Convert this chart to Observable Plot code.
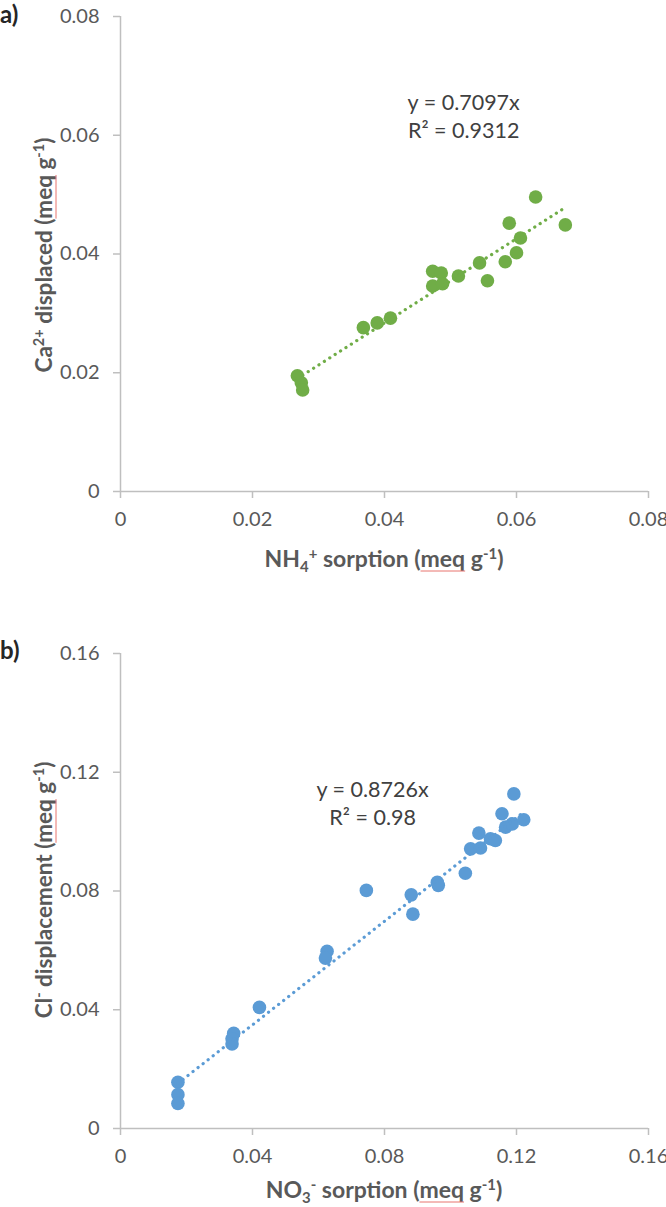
<!DOCTYPE html>
<html>
<head>
<meta charset="utf-8">
<script src="https://cdn.jsdelivr.net/npm/d3@7"></script>
<script src="https://cdn.jsdelivr.net/npm/@observablehq/plot@0.6"></script>
<style>
  html, body { margin: 0; padding: 0; background: #fff; }
  #wrap { width: 666px; }
  svg { display: block; overflow: visible; }
</style>
</head>
<body>
<div id="wrap"></div>
<script>
// ---- Panel a data: NH4+ sorption vs Ca2+ displaced ----
const aSorption = [0.0268, 0.0274, 0.0276, 0.0368, 0.0389, 0.0409, 0.0473, 0.0486, 0.0473, 0.0488,
                   0.0512, 0.0544, 0.0556, 0.0583, 0.0600, 0.0606, 0.0589, 0.0629, 0.0674];
const aDisplaced = [0.0195, 0.0183, 0.0171, 0.0276, 0.0284, 0.0292, 0.0371, 0.0368, 0.0346, 0.0350,
                    0.0363, 0.0385, 0.0355, 0.0387, 0.0402, 0.0427, 0.0452, 0.0496, 0.0449];
const aSlope = 0.7097;
const aEquation = ["y = 0.7097x", "R² = 0.9312"];
const aTicks = [0, 0.02, 0.04, 0.06, 0.08];

// ---- Panel b data: NO3- sorption vs Cl- displacement ----
const bSorption = [0.0174, 0.0174, 0.0174, 0.0343, 0.0338, 0.0338, 0.0421, 0.0626, 0.0621, 0.0745,
                   0.0881, 0.0886, 0.0963, 0.0960, 0.1045, 0.1061, 0.1091, 0.1086, 0.1121, 0.1136,
                   0.1167, 0.1187, 0.1156, 0.1222, 0.1192];
const bDisplaced = [0.0156, 0.0114, 0.0084, 0.0321, 0.0302, 0.0285, 0.0408, 0.0597, 0.0574, 0.0802,
                    0.0787, 0.0722, 0.0819, 0.0829, 0.0860, 0.0942, 0.0945, 0.0995, 0.0976, 0.0970,
                    0.1015, 0.1026, 0.1060, 0.1040, 0.1127];
const bSlope = 0.8726;
const bEquation = ["y = 0.8726x", "R² = 0.98"];
const bTicks = [0, 0.04, 0.08, 0.12, 0.16];

const FONT = "Lato, 'Open Sans', sans-serif";
const AXIS = "#bfbfbf";
const TEXT = "#595959";

function fmt(d) { return d === 0 ? "0" : String(+d.toFixed(2)); }

function richText(svg, parts, attrs) {
  const g = svg.append("g").attr("transform", attrs.transform);
  const t = g.append("text")
    .attr("font-family", FONT)
    .attr("font-weight", "bold")
    .attr("font-size", attrs.size)
    .attr("fill", TEXT)
    .attr("text-anchor", "middle");
  let shift = 0;
  const marked = [];
  for (const p of parts) {
    const target = p.sub ? 5 : p.sup ? -8 : 0;
    const ts = t.append("tspan").text(p.t).attr("dy", target - shift);
    if (p.sub || p.sup) ts.attr("font-size", attrs.size * 0.65);
    if (p.mark) marked.push(ts.node());
    shift = target;
  }
  // spell-check style red underline beneath "meq"
  for (const node of marked) {
    const s = node.getStartPositionOfChar(0);
    const len = node.getComputedTextLength();
    g.append("line")
      .attr("x1", s.x).attr("x2", s.x + len)
      .attr("y1", s.y + 4).attr("y2", s.y + 4)
      .attr("stroke", "#e8746f").attr("stroke-width", 1);
  }
  return t;
}

function panel(cfg) {
  const data = cfg.xs.map((x, i) => ({x, y: cfg.ys[i]}));
  const x0 = d3.min(cfg.xs), x1 = d3.max(cfg.xs);
  const trend = [{x: x0, y: cfg.slope * x0}, {x: x1, y: cfg.slope * x1}];
  const chart = Plot.plot({
    width: 666,
    height: cfg.height,
    marginTop: cfg.marginTop,
    marginBottom: cfg.marginBottom,
    marginLeft: 120,
    marginRight: 18,
    style: {fontFamily: FONT, background: "white", overflow: "visible"},
    x: {domain: [cfg.ticks[0], cfg.ticks[cfg.ticks.length - 1]]},
    y: {domain: [cfg.ticks[0], cfg.ticks[cfg.ticks.length - 1]]},
    marks: [
      Plot.axisX(cfg.ticks, {tickFormat: fmt, tickSize: 7, tickPadding: 13, stroke: AXIS, strokeWidth: 1.5,
        color: TEXT, fontSize: 20, label: null}),
      Plot.axisY(cfg.ticks, {tickFormat: fmt, tickSize: 7, tickPadding: 14, stroke: AXIS, strokeWidth: 1.5,
        color: TEXT, fontSize: 20, label: null}),
      Plot.ruleY([0], {stroke: AXIS, strokeWidth: 1.5}),
      Plot.ruleX([0], {stroke: AXIS, strokeWidth: 1.5}),
      Plot.dot(data, {x: "x", y: "y", r: 6.8, fill: cfg.color, stroke: "none"}),
      Plot.line(trend, {x: "x", y: "y", stroke: cfg.color, strokeWidth: 3.2,
        strokeDasharray: "0.1,6.3", strokeLinecap: "round"}),
      Plot.text([cfg.equation.join("\n")], {x: cfg.eqX, y: cfg.eqY, text: d => d, fontSize: 21.5,
        lineHeight: 1.3, fill: "#404040", textAnchor: "middle", fontFamily: FONT})
    ]
  });
  document.getElementById("wrap").appendChild(chart);
  const svg = d3.select(chart);
  svg.append("text").text(cfg.label)
    .attr("x", 0).attr("y", cfg.labelY)
    .attr("text-anchor", "start")
    .attr("font-family", FONT).attr("font-weight", "bold").attr("font-size", 24)
    .attr("fill", "#262626").attr("dominant-baseline", "middle");
  richText(svg, cfg.xTitle, {size: 23, transform: `translate(384,${cfg.xTitleY})`});
  richText(svg, cfg.yTitle, {size: 22.5, transform: `translate(52,${cfg.yTitleY}) rotate(-90)`});
  return chart;
}

panel({
  xs: aSorption, ys: aDisplaced, slope: aSlope, ticks: aTicks, equation: aEquation,
  color: "#70ad47", height: 600, marginTop: 16, marginBottom: 109,
  eqX: 0.052, eqY: 0.0634, label: "a)", labelY: 17,
  xTitle: [{t: "NH"}, {t: "4", sub: true}, {t: "+", sup: true}, {t: " sorption ("}, {t: "meq", mark: true}, {t: " g"}, {t: "-1", sup: true}, {t: ")"}],
  xTitleY: 567,
  yTitle: [{t: "Ca"}, {t: "2+", sup: true}, {t: " displaced ("}, {t: "meq", mark: true}, {t: " g"}, {t: "-1", sup: true}, {t: ")"}],
  yTitleY: 255
});
panel({
  xs: bSorption, ys: bDisplaced, slope: bSlope, ticks: bTicks, equation: bEquation,
  color: "#5b9bd5", height: 607, marginTop: 53, marginBottom: 79,
  eqX: 0.0764, eqY: 0.110, label: "b)", labelY: 53,
  xTitle: [{t: "NO"}, {t: "3", sub: true}, {t: "-", sup: true}, {t: " sorption ("}, {t: "meq", mark: true}, {t: " g"}, {t: "-1", sup: true}, {t: ")"}],
  xTitleY: 598,
  yTitle: [{t: "Cl"}, {t: "-", sup: true}, {t: " displacement ("}, {t: "meq", mark: true}, {t: " g"}, {t: "-1", sup: true}, {t: ")"}],
  yTitleY: 290
});
</script>
</body>
</html>
